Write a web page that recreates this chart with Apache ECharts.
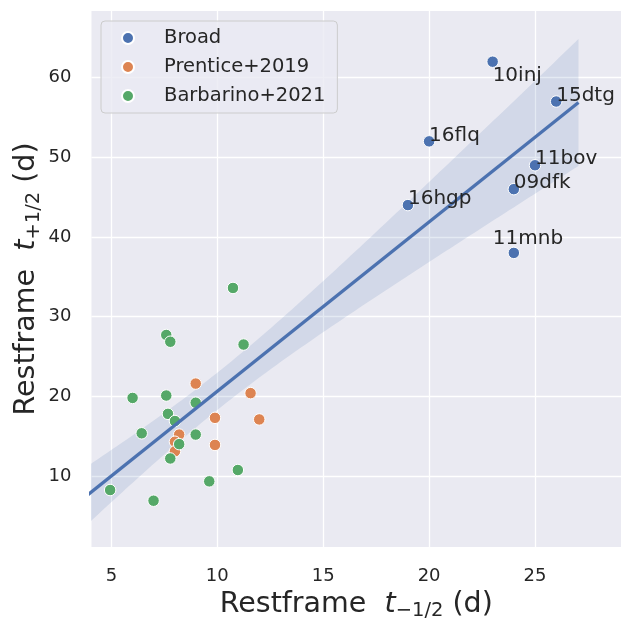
<!DOCTYPE html>
<html>
<head>
<meta charset="utf-8">
<script src="https://cdn.jsdelivr.net/npm/echarts@6/dist/echarts.min.js"></script>
<style>
  html, body { margin: 0; padding: 0; background: #ffffff; }
  #chart { width: 622px; height: 619px; }
</style>
</head>
<body>
<div id="chart"></div>
<script>
// ---- data -------------------------------------------------------------
const broadNames = ['10inj', '15dtg', '16flq', '11bov', '09dfk', '16hgp', '11mnb'];
const broadX     = [23, 26, 20, 25, 24, 19, 24];
const broadY     = [62, 57, 52, 49, 46, 44, 38];

const prenticeX = [8.98, 11.57, 9.89, 11.98, 8.2, 8.0, 9.89, 8.0];
const prenticeY = [21.6, 20.4, 17.3, 17.1, 15.2, 14.3, 13.9, 13.1];

const barbarinoX = [10.74, 7.59, 7.78, 11.24, 6.0, 7.59, 8.98, 7.67, 8.0, 6.43, 8.98, 8.2, 7.78, 10.97, 9.62, 4.94, 6.99];
const barbarinoY = [33.6, 27.7, 26.85, 26.5, 19.8, 20.1, 19.2, 17.8, 16.9, 15.36, 15.2, 14.0, 12.2, 10.75, 9.33, 8.24, 6.9];

const seriesNames = ['Broad', 'Prentice+2019', 'Barbarino+2021'];
const xTicks = [5, 10, 15, 20, 25];
const yTicks = [10, 20, 30, 40, 50, 60];

// ---- styling ----------------------------------------------------------
const FONT = 'DejaVu Sans';
const TEXT = '#262626';
const COLORS = ['#4C72B0', '#DD8452', '#55A868'];
// names sit with their baseline on the point; a few are nudged to avoid collisions
const labelShift = { '10inj': [0, 20], '11mnb': [-21, -8] };
const BASELINE_LIFT = -6;

// ---- linear fit over every point, with a robust (HC2) 95% band ----------
const allX = broadX.concat(prenticeX, barbarinoX);
const allY = broadY.concat(prenticeY, barbarinoY);
const n = allX.length;
const mx = allX.reduce((s, v) => s + v, 0) / n;
const my = allY.reduce((s, v) => s + v, 0) / n;
let sxx = 0, sxy = 0;
for (let i = 0; i < n; i++) {
  sxx += (allX[i] - mx) * (allX[i] - mx);
  sxy += (allX[i] - mx) * (allY[i] - my);
}
const slope = sxy / sxx;
const icpt = my - slope * mx;

// (X'X)^-1 for the design [1, x]
let sx = 0, sx2 = 0;
allX.forEach(v => { sx += v; sx2 += v * v; });
const det = n * sx2 - sx * sx;
const A = [[sx2 / det, -sx / det], [-sx / det, n / det]];
// meat of the sandwich
const M = [[0, 0], [0, 0]];
for (let i = 0; i < n; i++) {
  const e = allY[i] - (icpt + slope * allX[i]);
  const h = 1 / n + (allX[i] - mx) * (allX[i] - mx) / sxx;
  const w = e * e / (1 - h);
  const xi = allX[i];
  M[0][0] += w; M[0][1] += w * xi; M[1][0] += w * xi; M[1][1] += w * xi * xi;
}
function mul(P, Q) {
  return [[P[0][0] * Q[0][0] + P[0][1] * Q[1][0], P[0][0] * Q[0][1] + P[0][1] * Q[1][1]],
          [P[1][0] * Q[0][0] + P[1][1] * Q[1][0], P[1][0] * Q[0][1] + P[1][1] * Q[1][1]]];
}
const V = mul(mul(A, M), A);

// fit is drawn across the data span padded by 5% on each side
const xmin = Math.min(...allX), xmax = Math.max(...allX);
const fitLo = xmin - 0.05 * (xmax - xmin);
const fitHi = xmax + 0.05 * (xmax - xmin);
const GRID_N = 100;
const bandX = [], bandHi = [], bandLo = [];
for (let k = 0; k < GRID_N; k++) {
  const x0 = fitLo + (fitHi - fitLo) * k / (GRID_N - 1);
  const yhat = icpt + slope * x0;
  const v = V[0][0] + 2 * x0 * V[0][1] + x0 * x0 * V[1][1];
  const half = 1.96 * Math.sqrt(v);
  bandX.push(x0); bandHi.push(yhat + half); bandLo.push(yhat - half);
}

// ---- chart ------------------------------------------------------------
const chart = echarts.init(document.getElementById('chart'), null, { renderer: 'canvas' });

const titleRich = {
  n: { fontFamily: FONT, fontSize: 28.5, color: TEXT },
  i: { fontFamily: FONT, fontSize: 28.5, color: TEXT, fontStyle: 'italic' },
  s: { fontFamily: FONT, fontSize: 19.5, color: TEXT, padding: [14, 0, 0, 0] }
};

const option = {
  animation: false,
  backgroundColor: '#ffffff',
  textStyle: { fontFamily: FONT },
  grid: {
    left: 91.5, right: 1, top: 11, bottom: 72,
    outerBoundsMode: 'none', containLabel: false,
    show: true, backgroundColor: '#EAEAF2', borderWidth: 0
  },
  xAxis: {
    type: 'value', min: 4.06, max: 29.06,
    name: '{n|Restframe  }{i|t}{s|\u22121/2}{n| (d)}',
    nameLocation: 'middle', nameGap: 37,
    nameTextStyle: { rich: titleRich },
    axisLine: { show: false },
    axisTick: { show: false, customValues: xTicks },
    axisLabel: { customValues: xTicks, fontFamily: FONT, fontSize: 18, color: TEXT, margin: 20 },
    splitLine: { show: true, lineStyle: { color: '#ffffff', width: 1.3 } }
  },
  yAxis: {
    type: 'value', min: 1.09, max: 68.36,
    name: '{n|Restframe  }{i|t}{s|+1/2}{n| (d)}',
    nameLocation: 'middle', nameGap: 48, nameRotate: 90, nameMoveOverlap: false,
    nameTextStyle: { rich: titleRich },
    axisLine: { show: false },
    axisTick: { show: false, customValues: yTicks },
    axisLabel: { customValues: yTicks, fontFamily: FONT, fontSize: 18, color: TEXT, margin: 20 },
    splitLine: { show: true, lineStyle: { color: '#ffffff', width: 1.3 } }
  },
  legend: {
    orient: 'vertical', left: 101, top: 21,
    padding: [6, 12, 6, 20], itemGap: 7,
    itemWidth: 12, itemHeight: 12, icon: 'circle',
    backgroundColor: 'rgba(234,234,242,0.8)',
    borderColor: '#cccccc', borderWidth: 1, borderRadius: 4,
    textStyle: { fontFamily: FONT, fontSize: 19.5, color: TEXT, lineHeight: 22, padding: [0, 0, 0, 25] },
    data: seriesNames
  },
  series: [
    {
      name: 'ci-band', type: 'custom', coordinateSystem: 'cartesian2d',
      clip: true, silent: true, z: 1,
      data: [[10, 20]],
      renderItem: function (params, api) {
        const pts = [];
        for (let k = 0; k < bandX.length; k++) pts.push(api.coord([bandX[k], bandHi[k]]));
        for (let k = bandX.length - 1; k >= 0; k--) pts.push(api.coord([bandX[k], bandLo[k]]));
        return { type: 'polygon', shape: { points: pts }, style: { fill: 'rgba(76,114,176,0.15)' } };
      }
    },
    {
      name: seriesNames[0], type: 'scatter', z: 4,
      symbolSize: 11.5,
      itemStyle: { color: COLORS[0], borderColor: '#ffffff', borderWidth: 1, opacity: 1 },
      label: {
        show: true, position: 'inside', align: 'left', verticalAlign: 'middle',
        formatter: '{b}', fontFamily: FONT, fontSize: 20, color: TEXT
      },
      labelLayout: function (params) {
        const name = broadNames[params.dataIndex];
        const s = labelShift[name] || [0, 0];
        return { dx: s[0], dy: s[1] + BASELINE_LIFT, hideOverlap: false };
      },
      data: broadX.map((x, i) => ({ value: [x, broadY[i]], name: broadNames[i] }))
    },
    {
      name: seriesNames[1], type: 'scatter', z: 2,
      symbolSize: 11.5,
      itemStyle: { color: COLORS[1], borderColor: '#ffffff', borderWidth: 1, opacity: 1 },
      data: prenticeX.map((x, i) => [x, prenticeY[i]])
    },
    {
      name: seriesNames[2], type: 'scatter', z: 2,
      symbolSize: 11.5,
      itemStyle: { color: COLORS[2], borderColor: '#ffffff', borderWidth: 1, opacity: 1 },
      data: barbarinoX.map((x, i) => [x, barbarinoY[i]])
    },
    {
      name: 'fit', type: 'line', z: 3, clip: true, silent: true,
      showSymbol: false, symbol: 'none',
      lineStyle: { color: COLORS[0], width: 3.3 },
      data: [[fitLo, icpt + slope * fitLo], [fitHi, icpt + slope * fitHi]]
    }
  ]
};

chart.setOption(option);
</script>
</body>
</html>
